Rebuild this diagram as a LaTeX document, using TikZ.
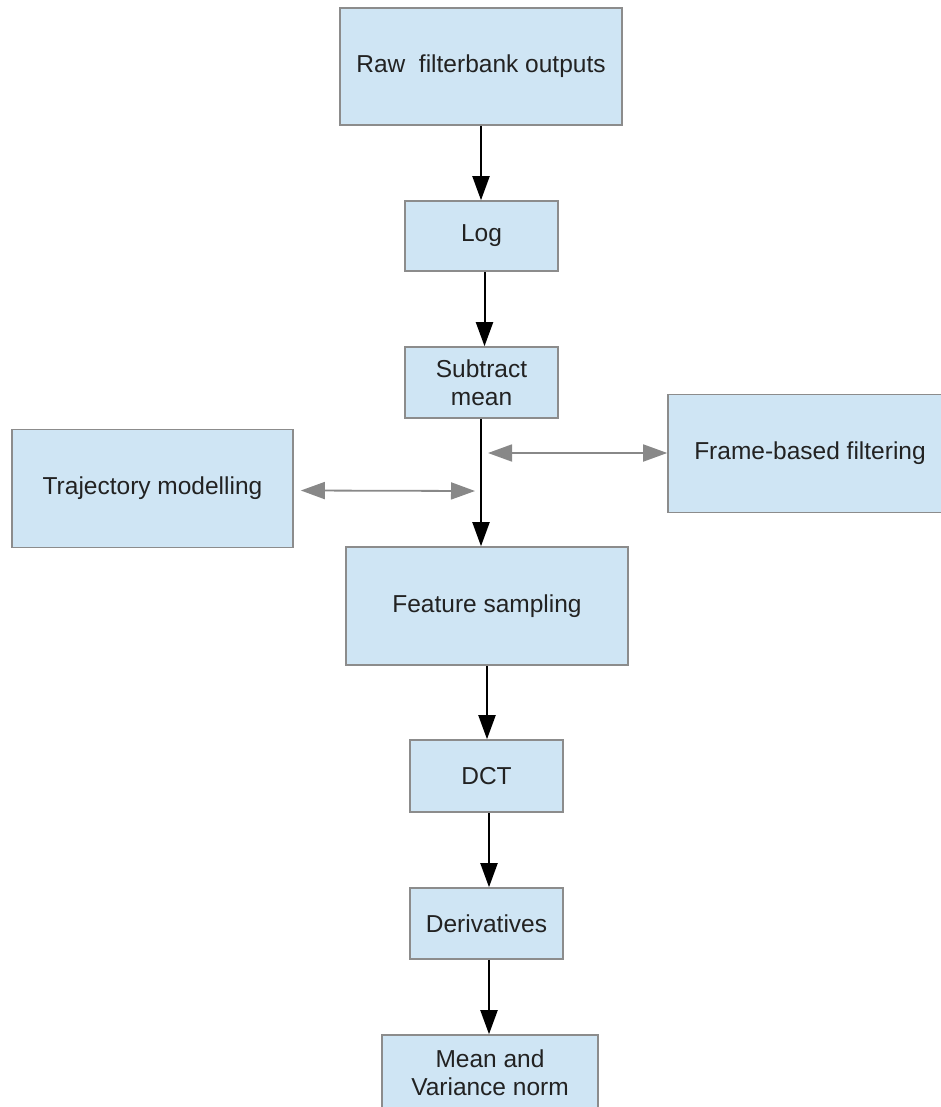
\documentclass[tikz,border=0pt]{standalone}
\usepackage{fontspec}
\setmainfont{Liberation Sans}
\usetikzlibrary{arrows.meta}
\definecolor{boxfill}{HTML}{CFE5F4}
\definecolor{boxline}{HTML}{8C8C8C}
\definecolor{txt}{HTML}{222222}
\definecolor{grayarrow}{HTML}{888888}
\begin{document}
\begin{tikzpicture}[x=1pt,y=-1pt,
  stage/.style={draw=boxline, line width=1.6pt, fill=boxfill, text=txt,
    font=\fontsize{24.5}{28}\selectfont, align=center, inner sep=0pt, anchor=center},
  flow/.style={draw=black, line width=2pt, -{Triangle[length=24pt,width=17pt]}},
  side/.style={draw=grayarrow, line width=1.8pt, color=grayarrow,
    {Triangle[length=24pt,width=17pt]}-{Triangle[length=24pt,width=17pt]}}]
\useasboundingbox (0,0) rectangle (941,1107);
\begin{scope}
\clip (0,0) rectangle (941,1107);
\node[stage, minimum width=282pt, minimum height=117pt] (raw) at (481,66.5) {Raw\ \ filterbank outputs};
\node[stage, minimum width=153pt, minimum height=70pt] (log) at (481.5,236) {Log};
\node[stage, minimum width=153pt, minimum height=71pt] (sub) at (481.5,382.5) {Subtract\\mean};
\node[stage, minimum width=281pt, minimum height=118pt] (traj) at (152.5,488.5) {Trajectory modelling};
\node[stage, minimum width=284pt, minimum height=118pt] (frame) at (810,453.5) {Frame-based filtering};
\node[stage, minimum width=282pt, minimum height=118pt] (feat) at (487,606) {Feature sampling};
\node[stage, minimum width=153pt, minimum height=72pt] (dct) at (486.5,776) {DCT};
\node[stage, minimum width=153pt, minimum height=71pt] (der) at (486.5,923.5) {Derivatives};
\node[stage, minimum width=216pt, minimum height=76pt] (mvn) at (490,1073) {Mean and\\Variance norm};

\draw[flow] (raw.south) -- (raw.south |- log.north);
\draw[flow] ([xshift=3pt]log.south) coordinate (logout) -- (logout |- sub.north);
\draw[flow] ([xshift=-0.5pt]sub.south) coordinate (subout) -- (subout |- feat.north);
\draw[flow] (feat.south) -- (feat.south |- dct.north);
\draw[flow] ([xshift=2.5pt]dct.south) coordinate (dctout) -- (dctout |- der.north);
\draw[flow] ([xshift=2.5pt]der.south) coordinate (derout) -- (derout |- mvn.north);

\coordinate (rightend) at (488,453);
\coordinate (leftend) at (475,491);
\draw[side] (rightend) -- (frame.west |- rightend);
\draw[side] ([xshift=7pt,yshift=-2pt]traj.east) -- (leftend);
\end{scope}
\end{tikzpicture}
\end{document}
